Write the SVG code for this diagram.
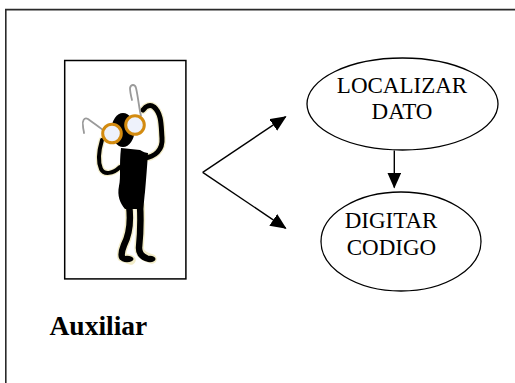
<svg xmlns="http://www.w3.org/2000/svg" width="515" height="383" viewBox="0 0 515 383">
  <style>
    .frame { fill: none; stroke: #2a2a2a; stroke-width: 1.6; }
    .node { fill: #ffffff; stroke: #000000; stroke-width: 1.3; }
    .label { font-size: 23px; fill: #000000; text-anchor: middle; }
    .caption { font-size: 27.5px; font-weight: bold; fill: #000000; }
    .edge { fill: none; stroke: #000000; stroke-width: 1.4; }
    .ink { fill: #000000; }
    .limb { fill: none; stroke: #000000; stroke-linecap: round; stroke-linejoin: round; }
    .halo { fill: none; stroke: #f2ecc8; stroke-linecap: round; stroke-linejoin: round; }
    .lens { fill: #eef2fb; stroke: #d38b10; stroke-width: 3; }
    .temple { fill: none; stroke: #9a9a9a; stroke-width: 1.8; stroke-linecap: round; }
  </style>
  <defs>
    <marker id="arrow" markerUnits="userSpaceOnUse" markerWidth="16" markerHeight="14" viewBox="0 0 16 14" refX="15" refY="7" orient="auto">
      <path d="M0,0 L16,7 L0,14 Z" fill="#000000"/>
    </marker>
  </defs>

  <!-- page frame (open to the right and bottom) -->
  <path class="frame" d="M5.8,383 L5.8,9.6 L515,9.6"/>

  <!-- actor: framed clip-art figure -->
  <g id="auxiliar">
    <rect x="64.7" y="60.5" width="121.2" height="218.4" fill="#ffffff" stroke="#000000" stroke-width="1.5"/>
    <g id="figure">
      <!-- soft cream edge around the silhouette -->
      <path class="halo" stroke-width="7.5" d="M144,158 C155,157 163,150 162,138 C161,126 162,114 154,107 C150,104 146,106 143,110"/>
      <path class="halo" stroke-width="6.5" d="M102,140 C99,150 98,162 101,169 C104,175 113,174 120,167"/>
      <path class="halo" stroke-width="9.5" d="M129,205 C131,220 129,235 124,245 C122,250 121,254 122,257 L131,260"/>
      <path class="halo" stroke-width="9.5" d="M140,205 C141,222 140,238 139,248 C139,252 141,256 152,259"/>
      <!-- head -->
      <ellipse class="ink" cx="123" cy="130" rx="11.5" ry="17"/>
      <!-- torso -->
      <path class="ink" d="M121,148 C127,149 134,149 140,150 C143,152 146,153 148,153 C147,168 146,180 145,192 C144,200 144,205 143,209 L125,209 C120,203 117,196 119,186 C121,177 119,165 121,148 Z"/>
      <!-- arms -->
      <path class="limb" stroke-width="5" d="M144,158 C155,157 163,150 162,138 C161,126 162,114 154,107 C150,104 146,106 143,110"/>
      <path class="limb" stroke-width="4" d="M102,140 C99,150 98,162 101,169 C104,175 113,174 120,167"/>
      <!-- legs and feet -->
      <path class="limb" stroke-width="6.5" d="M129,205 C131,220 129,235 124,245 C122,250 121,254 122,257"/>
      <path class="limb" stroke-width="6.5" d="M140,205 C141,222 140,238 139,248 C139,252 141,256 146,258"/>
      <ellipse class="ink" cx="127" cy="259" rx="6.5" ry="3.3"/>
      <ellipse class="ink" cx="150" cy="259" rx="5.5" ry="3.3"/>
      <!-- glasses -->
      <path class="temple" d="M141,116 C139,108 138,96 136,88 C135,84 131,84 130,88 C130,92 131,96 132,100"/>
      <path class="temple" d="M103,130 C98,126 92,122 88,119 C84,117 82,121 83,126 C83,129 84,131 84,133"/>
      <circle class="lens" cx="112" cy="133.5" r="9.3"/>
      <circle class="lens" cx="135" cy="125" r="9.3"/>
    </g>
    <text class="caption" font-family="Liberation Serif, DejaVu Serif, serif" x="49.5" y="334.5">Auxiliar</text>
  </g>

  <!-- process nodes -->
  <g id="localizar-dato">
    <ellipse class="node" cx="402.5" cy="104" rx="95.5" ry="46"/>
    <text class="label" font-family="Liberation Serif, DejaVu Serif, serif" x="402" y="93">LOCALIZAR</text>
    <text class="label" font-family="Liberation Serif, DejaVu Serif, serif" x="402" y="119">DATO</text>
  </g>
  <g id="digitar-codigo">
    <ellipse class="node" cx="401" cy="241.5" rx="80" ry="49.5"/>
    <text class="label" font-family="Liberation Serif, DejaVu Serif, serif" x="391" y="228">DIGITAR</text>
    <text class="label" font-family="Liberation Serif, DejaVu Serif, serif" x="391.5" y="255">CODIGO</text>
  </g>

  <!-- connectors -->
  <g id="connectors">
    <path class="edge" d="M202.7,172.3 L285.7,116.7" marker-end="url(#arrow)"/>
    <path class="edge" d="M202.7,172.3 L285.7,228.3" marker-end="url(#arrow)"/>
    <path class="edge" d="M394.3,150.5 L394.3,187.5" marker-end="url(#arrow)"/>
  </g>
</svg>
